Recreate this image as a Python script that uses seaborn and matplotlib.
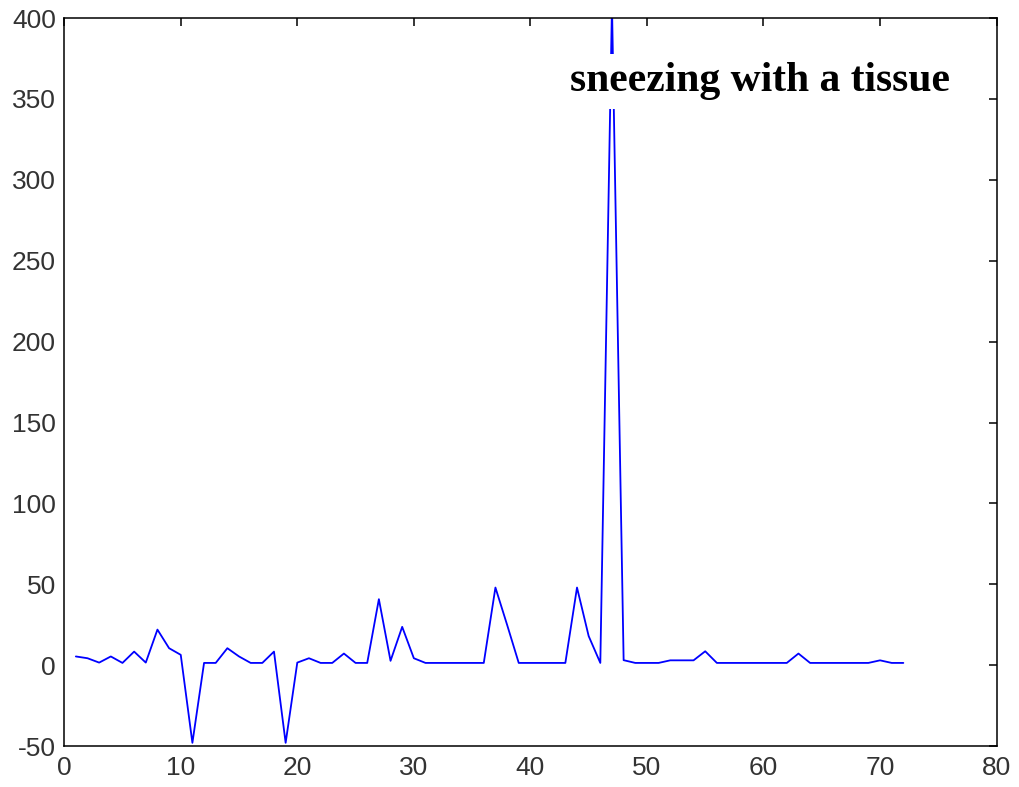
import numpy as np
import pandas as pd
import seaborn as sns
import matplotlib.pyplot as plt

sample = list(range(1, 73))
signal = [
    5.4, 4.3, 1.6, 5.4, 1.4, 8.4, 1.6, 22.0, 10.5, 6.4,
    -48.0, 1.4, 1.4, 10.5, 5.4, 1.4, 1.4, 8.4, -48.0, 1.6,
    4.3, 1.4, 1.4, 7.2, 1.4, 1.4, 40.8, 2.7, 23.7, 4.3,
    1.4, 1.4, 1.4, 1.4, 1.4, 1.4, 48.0, 25.0, 1.4, 1.4,
    1.4, 1.4, 1.4, 48.0, 18.0, 1.4, 408.0, 3.1, 1.4, 1.4,
    1.4, 3.0, 3.0, 3.0, 8.6, 1.4, 1.4, 1.4, 1.4, 1.4,
    1.4, 1.4, 7.2, 1.4, 1.4, 1.4, 1.4, 1.4, 1.4, 3.0,
    1.4, 1.4,
]
xticks = [0, 10, 20, 30, 40, 50, 60, 70, 80]
yticks = [-50, 0, 50, 100, 150, 200, 250, 300, 350, 400]
label = "sneezing with a tissue"

df = pd.DataFrame({"sample": sample, "signal": signal})

sns.set_theme(style="white")
plt.rcParams["font.family"] = ["Liberation Sans", "DejaVu Sans"]
plt.rcParams["axes.unicode_minus"] = False

fig = plt.figure(figsize=(10.19, 7.87), dpi=100)
ax = fig.add_axes([0.063, 0.052, 0.915, 0.925])

sns.lineplot(data=df, x="sample", y="signal", color="#0000ff", linewidth=1.3, ax=ax)

ax.set_xlim(0, 80)
ax.set_ylim(-50, 400)
ax.set_xticks(xticks)
ax.set_yticks(yticks)
ax.set_xlabel("")
ax.set_ylabel("")
ax.tick_params(direction="in", length=6, width=1.1, colors="black",
               labelcolor="#333333", labelsize=19, top=True, right=True)
ax.tick_params(axis="x", pad=7)
ax.tick_params(axis="y", pad=6)
for s in ax.spines.values():
    s.set_color("black")
    s.set_linewidth(1.1)

# label sits on a white box, so the spike is hidden behind it
ax.text(43.4, 361, label, family=["Liberation Serif", "DejaVu Serif"],
        fontweight="bold", fontsize=30, color="black", va="center", ha="left",
        bbox=dict(facecolor="white", edgecolor="none", pad=6))

fig.savefig("out.png", dpi=100)
